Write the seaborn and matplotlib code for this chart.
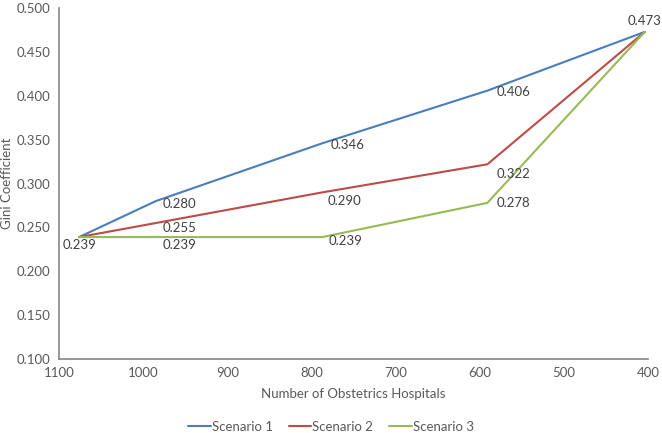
import pandas as pd
import matplotlib.pyplot as plt
import seaborn as sns

sns.set_theme(style="white")
plt.rcParams['font.family'] = ['Lato', 'DejaVu Sans']

hospitals = [1076, 985, 787, 591, 404]
scenario1 = [0.239, 0.280, 0.346, 0.406, 0.473]
scenario2 = [0.239, 0.255, 0.290, 0.322, 0.473]
scenario3 = [0.239, 0.239, 0.239, 0.278, 0.473]
names = ["Scenario 1", "Scenario 2", "Scenario 3"]
colors = ["#4A7EBB", "#BE4B48", "#98B954"]

df = pd.DataFrame({
    "Hospitals": hospitals * 3,
    "Gini": scenario1 + scenario2 + scenario3,
    "Scenario": [n for n in names for _ in hospitals],
})

fig = plt.figure(figsize=(6.62, 4.33), dpi=100)
ax = fig.add_axes([0.089, 0.171, 0.890, 0.810])

sns.lineplot(data=df, x="Hospitals", y="Gini", hue="Scenario",
             palette=colors, linewidth=1.5, sort=False, ax=ax)

# data labels (pixel offsets from the point: dx, dy downwards)
label_offsets = {
    "Scenario 1": [None, (7, -3), (8, -2), (9, -1), (0, 11)],
    "Scenario 2": [None, (7, -5), (5, -9), (9, -10), None],
    "Scenario 3": [(0, -8), (7, -8), (6, -4), (9, 0), None],
}
series = {"Scenario 1": scenario1, "Scenario 2": scenario2, "Scenario 3": scenario3}
for name in names:
    for x, y, off in zip(hospitals, series[name], label_offsets[name]):
        if off is None:
            continue
        ha = "center" if off[0] == 0 else "left"
        ax.annotate(f"{y:.3f}", (x, y), xytext=(off[0] * 0.72, off[1] * 0.72),
                    textcoords="offset points", ha=ha, va="center",
                    fontsize=9.5, color="#404040")

ax.set_xlim(1100, 400)
ax.set_ylim(0.1, 0.5)
ax.set_xticks(range(1100, 399, -100))
ax.set_yticks([0.1 + 0.05 * i for i in range(9)])
ax.yaxis.set_major_formatter(plt.FuncFormatter(lambda v, p: f"{v:.3f}"))
ax.tick_params(axis="both", labelsize=9.5, colors="#595959", length=0, pad=6)
ax.set_xlabel("Number of Obstetrics Hospitals", fontsize=9.5, color="#595959", labelpad=6)
ax.set_ylabel("Gini Coefficient", fontsize=9.5, color="#595959", labelpad=3)
sns.despine(ax=ax)
for s in ["left", "bottom"]:
    ax.spines[s].set_color("#868686")
    ax.spines[s].set_linewidth(1.2)

handles, labels = ax.get_legend_handles_labels()
ax.get_legend().remove()
fig.legend(handles, labels, loc="lower center", bbox_to_anchor=(0.5, -0.018), ncol=3,
           frameon=False, fontsize=9.5, handlelength=1.7, handletextpad=0.1,
           columnspacing=1.2, labelcolor="#595959", borderaxespad=0.2)

fig.savefig("out.png", dpi=100)
